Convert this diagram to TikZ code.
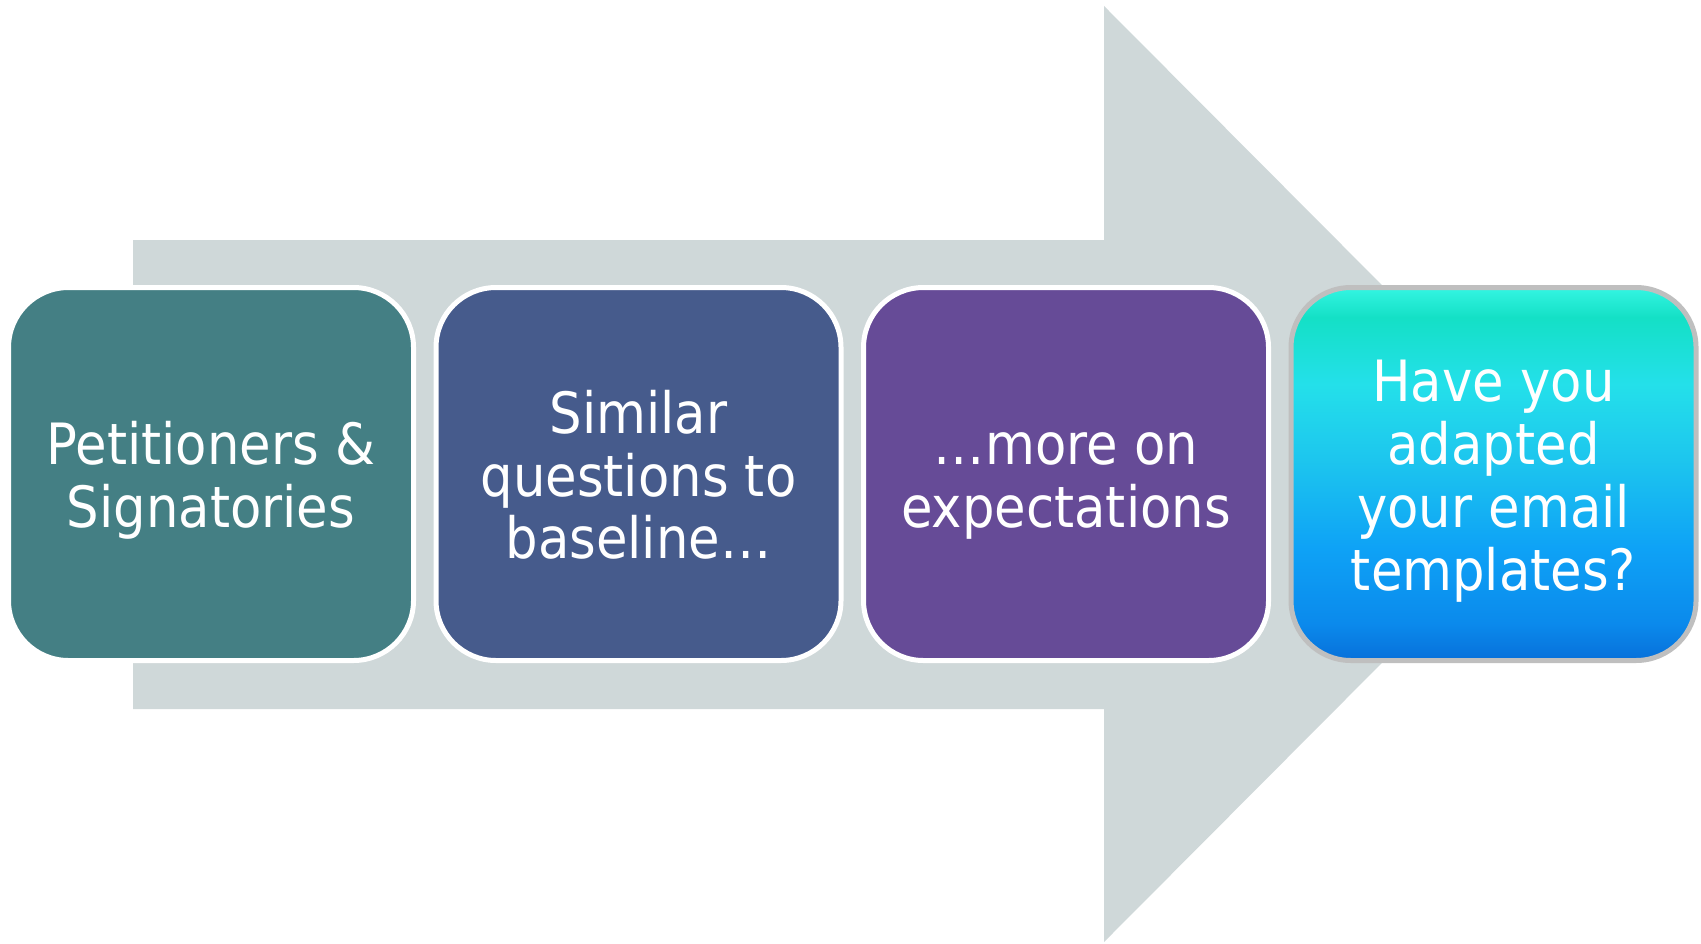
\documentclass[tikz,border=0pt]{standalone}
\usepackage{fontspec}
\setmainfont{DejaVu Sans}[FakeStretch=0.9]
\usetikzlibrary{positioning}

\definecolor{arrowgrey}{HTML}{CFD8D9}
\definecolor{stepteal}{HTML}{447F84}
\definecolor{stepblue}{HTML}{465B8C}
\definecolor{steppurple}{HTML}{664B97}
\definecolor{glassA}{HTML}{0770DA}
\definecolor{glassB}{HTML}{0B8AEC}
\definecolor{glassC}{HTML}{0EA2F6}
\definecolor{glassD}{HTML}{1DC6EE}
\definecolor{glassE}{HTML}{24E0EA}
\definecolor{glassF}{HTML}{14E0C6}
\definecolor{glassG}{HTML}{34F5E2}
\pgfdeclareverticalshading{stepglass}{100bp}{color(0bp)=(glassA); color(25bp)=(glassA);
  color(30bp)=(glassB); color(40bp)=(glassC); color(52bp)=(glassD); color(62bp)=(glassE);
  color(71bp)=(glassF); color(75bp)=(glassG); color(100bp)=(glassG)}

% lines of a step, centred, a little lower than TeX would put them
\newcommand{\steplines}[1]{\begin{tabular}{@{}c@{}}\rule{0pt}{17.9pt}#1\end{tabular}}

\begin{document}
\begin{tikzpicture}[
  every node/.style={inner sep=0pt},
  stepbox/.style={rectangle, rounded corners=0.6cm, draw=white, line width=0.05cm,
    minimum width=4.05cm, minimum height=3.73cm, text=white,
    font=\fontsize{16.2}{17.9}\selectfont},
]
\useasboundingbox (0,0) rectangle (17.01,9.43);
% big grey arrow behind the steps
\fill [arrowgrey] (1.33,2.34) -- (1.33,7.03) -- (11.04,7.03) -- (11.04,9.37)
  -- (15.70,4.69) -- (11.04,0.01) -- (11.04,2.34) -- cycle;
% steps
\node [stepbox, fill=stepteal] (petition) at (2.11,4.69) {\steplines{Petitioners \&\\Signatories}};
\node [stepbox, fill=stepblue, right=1.75mm of petition] (similar) {\steplines{Similar\\questions to\\baseline…}};
\node [stepbox, fill=steppurple, right=1.75mm of similar] (expect) {\steplines{…more on\\expectations}};
\node [stepbox, shade, shading=stepglass, draw=black!25, right=1.75mm of expect] (template)
  {\steplines{Have you\\adapted\\your email\\templates?}};
\end{tikzpicture}
\end{document}
